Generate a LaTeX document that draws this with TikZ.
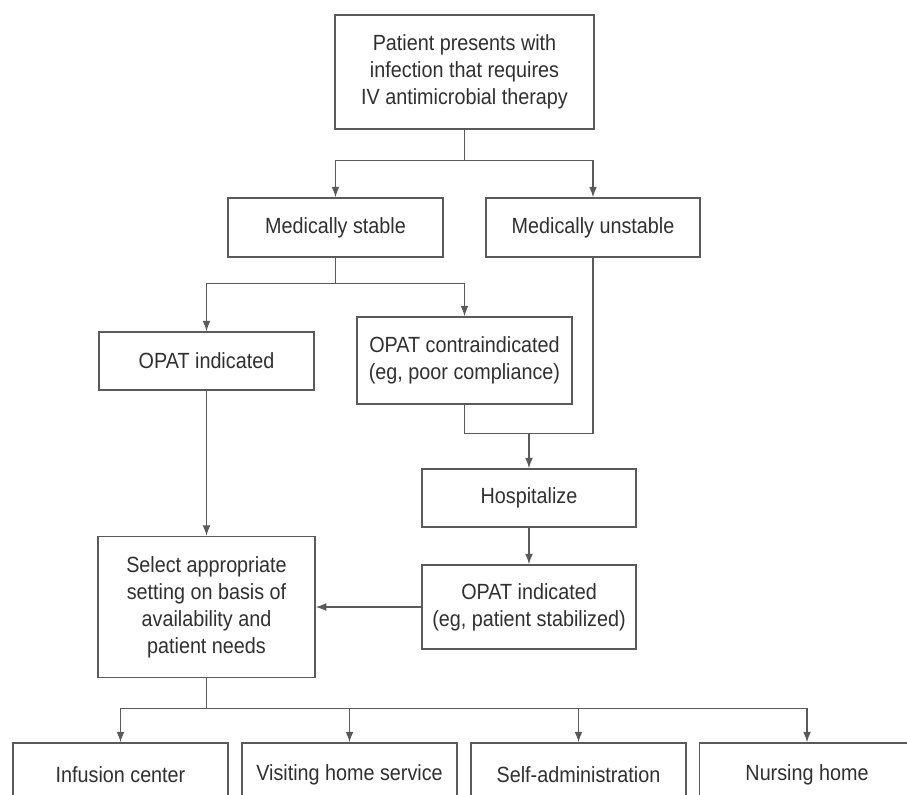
\documentclass[tikz,border=0pt]{standalone}
\usepackage{fontspec}
\setmainfont{Liberation Sans}[FakeStretch=0.9]
\usepackage{tikz}
\usetikzlibrary{arrows.meta}
\usepackage{xcolor}
\definecolor{FlowLine}{HTML}{5A5A5A}
\definecolor{FlowText}{HTML}{303030}
\tikzset{
    % Box styles - plain sharp rectangles
    flowbox/.style={
        rectangle,
        draw=FlowLine,
        fill=white,
        line width=0.8pt,
        minimum width=4.3cm,
        minimum height=1.18cm,
        inner sep=2pt,
        align=center,
        text=FlowText,
        font=\fontsize{12.5}{15.4}\selectfont
    },
    % Connector styles
    link/.style={
        line width=0.8pt,
        draw=FlowLine
    },
    arrow/.style={
        -{Latex[length=6pt,width=4.5pt]},
        line width=0.8pt,
        draw=FlowLine
    }
}
\begin{document}
\begin{tikzpicture}
    \clip (0,0) rectangle (18.14,-15.88);

    % Top of the chart
    \node[flowbox, minimum width=5.18cm, minimum height=2.28cm] (patient) at (9.29,-1.44)
        {Patient presents with\\infection that requires\\IV antimicrobial therapy};
    \node[flowbox] (stable) at (6.71,-4.55) {Medically stable};
    \node[flowbox, minimum width=4.28cm] (unstable) at (11.86,-4.55) {Medically unstable};

    % Middle
    \node[flowbox, minimum height=1.16cm] (opatyes) at (4.13,-7.22) {OPAT indicated};
    \node[flowbox, minimum height=1.74cm] (opatno) at (9.29,-7.21)
        {OPAT contraindicated\\(eg, poor compliance)};
    \node[flowbox, minimum width=4.28cm, minimum height=1.16cm] (hospital) at (10.58,-9.96) {Hospitalize};
    \node[flowbox, minimum width=4.28cm, minimum height=1.68cm] (opatlater) at (10.58,-12.14)
        {OPAT indicated\\(eg, patient stabilized)};
    \node[flowbox, minimum width=4.34cm, minimum height=2.82cm] (select) at (4.13,-12.14)
        {Select appropriate\\setting on basis of\\availability and\\patient needs};

    % Settings
    \node[flowbox, minimum height=1.28cm] (infusion) at (2.41,-15.5) {Infusion center};
    \node[flowbox, minimum height=1.28cm] (visiting) at (6.99,-15.5) {Visiting home service};
    \node[flowbox, minimum height=1.28cm] (selfadmin) at (11.57,-15.5) {Self-administration};
    \node[flowbox, minimum height=1.28cm] (nursing) at (16.14,-15.5) {Nursing home};

    % Connectors
    \draw[link] (patient.south) -- ++(0,-0.62) coordinate (split1);
    \draw[arrow] (split1) -| (stable.north);
    \draw[arrow] (split1) -| (unstable.north);

    \draw[link] (stable.south) -- ++(0,-0.52) coordinate (split2);
    \draw[arrow] (split2) -| (opatyes.north);
    \draw[arrow] (split2) -| (opatno.north);

    \draw[link] (opatno.south) -- ++(0,-0.58) coordinate (merge) -| (unstable.south);
    \draw[arrow] (hospital.north |- merge) -- (hospital.north);
    \draw[arrow] (hospital.south) -- (opatlater.north);
    \draw[arrow] (opatlater.west) -- (opatlater.west -| select.east);
    \draw[arrow] (opatyes.south) -- (select.north);

    \draw[link] (select.south) -- ++(0,-0.6) coordinate (split3);
    \foreach \place in {infusion, visiting, selfadmin, nursing} {
        \draw[arrow] (split3) -| (\place.north);
    }
\end{tikzpicture}
\end{document}
